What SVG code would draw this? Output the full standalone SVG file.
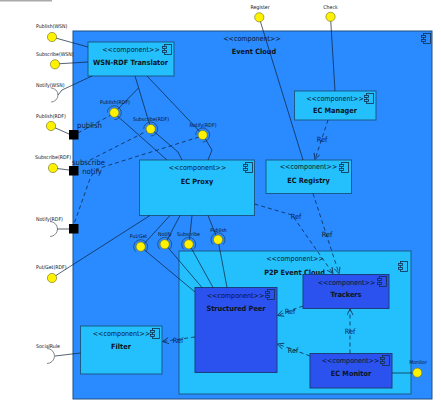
<svg xmlns="http://www.w3.org/2000/svg" xmlns:xlink="http://www.w3.org/1999/xlink" width="441" height="402" viewBox="0 0 441 402">
<style>
text{font-family:'DejaVu Sans Condensed','DejaVu Sans',sans-serif;font-stretch:condensed;fill:#0a1426}
.st{font-size:7.1px;text-anchor:middle}
.nm{font-size:7.3px;font-weight:bold;text-anchor:middle}
.pl{font-size:5.2px}
.pc{font-size:5.2px;text-anchor:middle}
.lb{font-size:7.7px;text-anchor:middle;fill:#0b1f3d}
.rf{font-size:7.3px;text-anchor:middle;fill:#0b1f3d}
.outer{fill:#2a8aff;stroke:#1d4f86;stroke-width:1}
.lt{fill:#23c0fd;stroke:#1a5b8a;stroke-width:1}
.dk{fill:#2b52ef;stroke:#1a3f7a;stroke-width:1}
.ln{fill:none;stroke:#0d1f33;stroke-width:0.7}
.ds{fill:none;stroke:#0d2a4d;stroke-width:0.8;stroke-dasharray:4,3}
.ball{fill:#fff200;stroke:#6b6b1a;stroke-width:0.6}
.ring{fill:none;stroke:#1b2f4a;stroke-width:0.6}
.sock{fill:none;stroke:#555;stroke-width:0.7}
.sq{fill:#000}
</style>
<defs>
<g id="ci" stroke="#14304f" stroke-width="0.8">
<rect x="2.5" y="0.5" width="7" height="10" fill="none"/>
<rect x="0.5" y="2.5" width="4" height="2"/>
<rect x="0.5" y="6.5" width="4" height="2"/>
</g>
<path id="ringLL" d="M-7,0 A7,7 0 1 1 0,7"/>
<path id="ringB" d="M-4.95,4.95 A7,7 0 1 1 4.95,4.95"/>
<marker id="oa" viewBox="0 0 8 8" refX="7.5" refY="4" markerWidth="7" markerHeight="7" orient="auto" markerUnits="userSpaceOnUse">
<path d="M0.5,0.5 L7.5,4 L0.5,7.5" fill="none" stroke="#0d2a4d" stroke-width="0.9"/>
</marker>
</defs>
<rect width="441" height="402" fill="#fff"/>
<line x1="0" y1="0.8" x2="52" y2="0.8" stroke="#aaaaaa" stroke-width="1.6"/>

<g id="event-cloud">
<rect class="outer" x="73" y="31" width="359" height="368"/>
<use href="#ci" x="421" y="33" fill="#2a8aff"/>
<text class="st" x="252" y="40.5">&lt;&lt;component&gt;&gt;</text>
<text class="nm" x="254" y="53.5">Event Cloud</text>
</g>

<g id="wsn-rdf-translator">
<rect class="lt" x="88" y="42" width="86" height="34"/>
<use href="#ci" x="162" y="44" fill="#23c0fd"/>
<text class="st" x="131" y="52">&lt;&lt;component&gt;&gt;</text>
<text class="nm" x="130.5" y="65">WSN-RDF Translator</text>
</g>

<g id="ec-manager">
<rect class="lt" x="294.5" y="91" width="81.5" height="29"/>
<use href="#ci" x="364" y="93" fill="#23c0fd"/>
<text class="st" x="335" y="100.5">&lt;&lt;component&gt;&gt;</text>
<text class="nm" x="335" y="113">EC Manager</text>
</g>

<g id="ec-registry">
<rect class="lt" x="266" y="160" width="85.5" height="33.5"/>
<use href="#ci" x="339" y="162" fill="#23c0fd"/>
<text class="st" x="308.5" y="169">&lt;&lt;component&gt;&gt;</text>
<text class="nm" x="308.5" y="182.5">EC Registry</text>
</g>

<g id="ec-proxy">
<rect class="lt" x="139.5" y="160" width="115" height="55.5"/>
<use href="#ci" x="243" y="162" fill="#23c0fd"/>
<text class="st" x="197.5" y="170">&lt;&lt;component&gt;&gt;</text>
<text class="nm" x="197" y="184">EC Proxy</text>
</g>

<g id="p2p-event-cloud">
<rect class="lt" x="179" y="251" width="232" height="143"/>
<use href="#ci" x="398" y="261" fill="#23c0fd"/>
<text class="st" x="295" y="261">&lt;&lt;component&gt;&gt;</text>
<text class="nm" x="294.5" y="274.5">P2P Event Cloud</text>
</g>

<g id="structured-peer">
<rect class="dk" x="195" y="287.5" width="82" height="85"/>
<use href="#ci" x="265" y="289" fill="#2b52ef"/>
<text class="st" x="235.5" y="298">&lt;&lt;component&gt;&gt;</text>
<text class="nm" x="236" y="310.5">Structured Peer</text>
</g>

<g id="trackers">
<rect class="dk" x="303" y="274.5" width="86" height="34"/>
<use href="#ci" x="377" y="276" fill="#2b52ef"/>
<text class="st" x="346.5" y="285">&lt;&lt;component&gt;&gt;</text>
<text class="nm" x="346" y="297">Trackers</text>
</g>

<g id="ec-monitor">
<rect class="dk" x="310" y="353.5" width="82" height="34.5"/>
<use href="#ci" x="380" y="355" fill="#2b52ef"/>
<text class="st" x="350.5" y="363">&lt;&lt;component&gt;&gt;</text>
<text class="nm" x="351" y="376">EC Monitor</text>
</g>

<g id="filter">
<rect class="lt" x="80.5" y="326" width="81.5" height="48"/>
<use href="#ci" x="150" y="328" fill="#23c0fd"/>
<text class="st" x="121.5" y="336">&lt;&lt;component&gt;&gt;</text>
<text class="nm" x="121" y="349">Filter</text>
</g>

<g id="connectors">
<!-- external WSN -->
<line class="ln" x1="52" y1="37" x2="88" y2="47"/>
<line class="ln" x1="55" y1="64" x2="88" y2="62"/>
<polyline class="ln" points="58,95 62,90 92,76"/>
<!-- translator to RDF ports -->
<line class="ln" x1="135" y1="76" x2="151" y2="129"/>
<line class="ln" x1="138.5" y1="88" x2="114" y2="113"/>
<line class="ln" x1="147" y1="76" x2="203" y2="135"/>
<!-- RDF ports to proxy -->
<line class="ln" x1="114" y1="113" x2="167" y2="160"/>
<polyline class="ln" points="151,129 178,152 182,160"/>
<polyline class="ln" points="203,135 212,150 208,160"/>
<!-- external RDF -->
<line class="ln" x1="51" y1="126" x2="69" y2="134"/>
<line class="ln" x1="53" y1="168" x2="69" y2="170"/>
<line class="ln" x1="57" y1="229" x2="69" y2="229"/>
<line class="ln" x1="52" y1="278" x2="150" y2="215.5"/>
<!-- delegation dashed -->
<line class="ds" x1="78" y1="133" x2="111" y2="115"/>
<line class="ds" x1="90" y1="160" x2="147" y2="131"/>
<polyline class="ds" points="199,137 100,168 91,176 74,224"/>
<!-- proxy to bottom ports -->
<line class="ln" x1="170" y1="215.5" x2="141" y2="247"/>
<line class="ln" x1="180" y1="215.5" x2="165" y2="244"/>
<line class="ln" x1="192" y1="215.5" x2="189" y2="244"/>
<line class="ln" x1="208" y1="215.5" x2="218" y2="240"/>
<!-- bottom ports to structured peer -->
<line class="ln" x1="141" y1="247" x2="195" y2="292"/>
<line class="ln" x1="165" y1="244" x2="202" y2="287.5"/>
<line class="ln" x1="189" y1="244" x2="213" y2="287.5"/>
<line class="ln" x1="218" y1="240" x2="227" y2="287.5"/>
<!-- register / check -->
<line class="ln" x1="259" y1="17" x2="303" y2="160"/>
<line class="ln" x1="330.5" y1="17" x2="335" y2="91"/>
<!-- monitor, social rule -->
<line class="ln" x1="392" y1="373" x2="417" y2="373"/>
<line class="ln" x1="55" y1="356" x2="80.5" y2="353"/>
<!-- Ref dependencies -->
<line class="ds" x1="328" y1="120" x2="315" y2="159.5" marker-end="url(#oa)"/>
<polyline class="ds" points="254.5,204 292,215 333,273.5" marker-end="url(#oa)"/>
<line class="ds" x1="313" y1="193.5" x2="339" y2="273.5" marker-end="url(#oa)"/>
<line class="ds" x1="303" y1="306" x2="277.5" y2="315.5" marker-end="url(#oa)"/>
<line class="ds" x1="350" y1="353.5" x2="350" y2="309" marker-end="url(#oa)"/>
<line class="ds" x1="310" y1="356" x2="277.5" y2="344" marker-end="url(#oa)"/>
<line class="ds" x1="195" y1="337" x2="162.5" y2="341.5" marker-end="url(#oa)"/>
<text class="rf" x="322" y="142">Ref</text>
<text class="rf" x="296" y="219">Ref</text>
<text class="rf" x="327" y="237">Ref</text>
<text class="rf" x="290" y="314">Ref</text>
<text class="rf" x="350" y="334">Ref</text>
<text class="rf" x="293" y="353">Ref</text>
<text class="rf" x="178" y="343">Ref</text>
</g>

<g id="port-publish-wsn"><circle class="ball" cx="52" cy="37" r="4.6"/><text class="pl" x="36" y="28">Publish(WSN)</text></g>
<g id="port-subscribe-wsn"><circle class="ball" cx="55" cy="64.3" r="4.6"/><text class="pl" x="36" y="56">Subscribe(WSN)</text></g>
<g id="port-notify-wsn"><path class="sock" d="M51,88 A7,7 0 0 1 51,102"/><text class="pl" x="36" y="87">Notify(WSN)</text></g>
<g id="port-publish-rdf-ext"><circle class="ball" cx="51" cy="126" r="4.6"/><text class="pl" x="36" y="117.5">Publish(RDF)</text></g>
<g id="port-subscribe-rdf-ext"><circle class="ball" cx="53" cy="168" r="4.6"/><text class="pl" x="35" y="159">Subscribe(RDF)</text></g>
<g id="port-notify-rdf-ext"><path class="sock" d="M50,221.5 A7.5,7.5 0 0 1 50,236.5"/><text class="pl" x="36" y="221">Notify(RDF)</text></g>
<g id="port-putget-rdf-ext"><circle class="ball" cx="52" cy="278" r="4.6"/><text class="pl" x="36" y="269">Put/Get(RDF)</text></g>
<g id="port-socialrule"><path class="sock" d="M47,348.5 A7.5,7.5 0 0 1 47,363.5"/><text class="pl" x="36" y="348">SocialRule</text></g>
<g id="sq-publish"><rect class="sq" x="69" y="130" width="9.5" height="9.5"/><text class="lb" x="89.5" y="128">publish</text></g>
<g id="sq-subscribe"><rect class="sq" x="69" y="166" width="9.5" height="9.5"/><text class="lb" x="88.5" y="165">subscribe</text><text class="lb" x="92" y="174">notify</text></g>
<g id="sq-notify"><rect class="sq" x="69" y="224" width="9.5" height="9.5"/></g>
<g id="port-register"><circle class="ball" cx="259.3" cy="17.3" r="4.6"/><text class="pc" x="260" y="8.5">Register</text></g>
<g id="port-check"><circle class="ball" cx="330.5" cy="16.8" r="4.6"/><text class="pc" x="330.5" y="8.5">Check</text></g>
<g id="port-monitor"><circle class="ball" cx="417.3" cy="372.7" r="4.6"/><text class="pc" x="418" y="364">Monitor</text></g>
<g id="port-publish-rdf"><use href="#ringLL" class="ring" x="114.3" y="112.7"/><circle class="ball" cx="114.3" cy="112.7" r="4.6"/><text class="pc" x="115" y="104">Publish(RDF)</text></g>
<g id="port-subscribe-rdf"><use href="#ringLL" class="ring" x="150.7" y="129"/><circle class="ball" cx="150.7" cy="129" r="4.6"/><text class="pc" x="151" y="121">Subscribe(RDF)</text></g>
<g id="port-notify-rdf"><use href="#ringLL" class="ring" x="202.7" y="135"/><circle class="ball" cx="202.7" cy="135" r="4.6"/><text class="pc" x="203" y="127">Notify(RDF)</text></g>
<g id="port-putget"><use href="#ringB" class="ring" x="140.7" y="246.7"/><circle class="ball" cx="140.7" cy="246.7" r="4.6"/><text class="pc" x="138.5" y="238">Put/Get</text></g>
<g id="port-notify"><use href="#ringB" class="ring" x="164.7" y="244.3"/><circle class="ball" cx="164.7" cy="244.3" r="4.6"/><text class="pc" x="165" y="236">Notify</text></g>
<g id="port-subscribe"><use href="#ringB" class="ring" x="188.7" y="244.3"/><circle class="ball" cx="188.7" cy="244.3" r="4.6"/><text class="pc" x="188.5" y="236">Subscribe</text></g>
<g id="port-publish"><use href="#ringB" class="ring" x="218" y="239.7"/><circle class="ball" cx="218" cy="239.7" r="4.6"/><text class="pc" x="218.5" y="231.5">Publish</text></g>
</svg>
